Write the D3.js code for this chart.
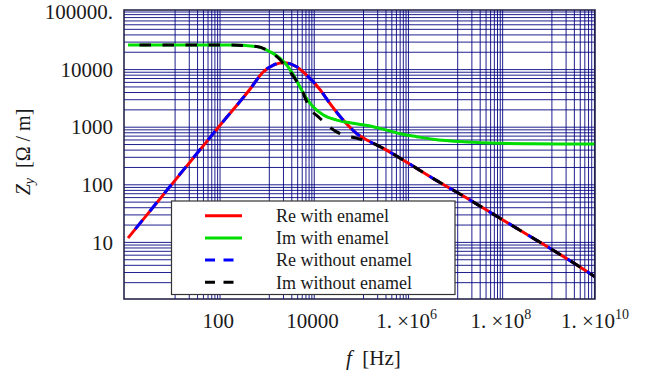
<!DOCTYPE html>
<html lang="en">
<head>
    <meta charset="UTF-8">
    <title>Z_y vs frequency</title>
    <script src="https://cdnjs.cloudflare.com/ajax/libs/d3/7.8.5/d3.min.js"></script>
    <style>
        body { margin: 0; background: #fff; }
        text { font-family: "Liberation Serif", "Times New Roman", serif; fill: #1a1a1a; }
    </style>
</head>
<body>
<svg id="chart" width="659" height="370"></svg>

<script>
    // values (frequency in Hz, impedance in ohm / m)
    const reFreq = [1, 100, 400, 740, 1220, 2000, 3800, 7200, 12000, 19500, 37000, 71000,
        138000, 263000, 600000, 3e6, 1.55e7, 7.9e7, 4.1e8, 2.05e9, 8.2e9];
    const reWith = [11.9, 1200, 4700, 9100, 12000, 13200, 11200, 7100, 4470, 2570, 1330, 780,
        560, 430, 290, 129, 59, 26.3, 11.7, 5.25, 2.54];
    const reWithout = [11.9, 1200, 4700, 9100, 12000, 13200, 11200, 7100, 4470, 2570, 1330, 780,
        560, 430, 290, 129, 59, 26.3, 11.7, 5.25, 2.54];

    const imWithFreq = [1, 146, 537, 1035, 1700, 2340, 3240, 4470, 6170, 8500, 14100, 26900,
        60000, 138000, 309000, 645000, 1.35e6, 3e6, 1.55e7, 7.9e7, 4.1e8, 8.2e9];
    const imWith = [26700, 26700, 25100, 20400, 15700, 12000, 8100, 5000, 3160, 2270, 1630, 1330,
        1170, 1050, 890, 760, 684, 617, 553, 525, 516, 510];

    const imWithoutFreq = [1, 146, 537, 1035, 1700, 2340, 2950, 3800, 4900, 6170, 8130, 11000,
        15800, 26900, 43600, 71000, 162000, 263000, 600000, 3e6, 1.55e7, 7.9e7, 4.1e8, 2.05e9, 8.2e9];
    const imWithout = [26700, 26700, 25100, 20400, 14800, 10700, 8500, 6300, 4470, 2820, 1900, 1510,
        1150, 830, 710, 645, 525, 430, 290, 129, 59, 26.3, 11.7, 5.25, 2.54];

    const xTickValues = [1e2, 1e4, 1e6, 1e8, 1e10];
    const xTickText = ["100", "10000", "1. \u00d710", "1. \u00d710", "1. \u00d710"];
    const xTickSup = ["", "", "6", "8", "10"];
    const yTickValues = [10, 100, 1000, 10000, 100000];
    const yTickText = ["10", "100", "1000", "10000", "100000."];

    const xGridDecades = [10, 1e3, 1e5, 1e7, 1e9];
    const yGridDecades = [1, 10, 100, 1000, 10000];

    const seriesNames = ["Re with enamel", "Im with enamel", "Re without enamel", "Im without enamel"];
    const seriesColors = ["#ff0000", "#00dd00", "#0000ff", "#000000"];

    const frame = {left: 124, right: 595, top: 10, bottom: 299};
    const svg = d3.select("#chart");

    const x = d3.scaleLog().domain([1, 1e10]).range([128, 599]);
    const y = d3.scaleLog().domain([1, 1e5]).range([300, 12]);

    // grid
    const xGrid = xGridDecades.flatMap(d => d3.range(1, 10).map(m => d * m))
        .filter(v => x(v) >= frame.left && x(v) <= frame.right);
    const yGrid = yGridDecades.flatMap(d => d3.range(1, 10).map(m => d * m)).concat([1e5])
        .filter(v => y(v) >= frame.top && y(v) <= frame.bottom);

    const grid = svg.append("g").attr("stroke", "#000080").attr("stroke-opacity", 0.88).attr("stroke-width", 1);
    grid.selectAll(".vg").data(xGrid).enter().append("line")
        .attr("x1", d => x(d)).attr("x2", d => x(d))
        .attr("y1", frame.top).attr("y2", frame.bottom);
    grid.selectAll(".hg").data(yGrid).enter().append("line")
        .attr("x1", frame.left).attr("x2", frame.right)
        .attr("y1", d => y(d)).attr("y2", d => y(d));

    svg.append("clipPath").attr("id", "plotClip")
        .append("rect")
        .attr("x", frame.left).attr("y", frame.top)
        .attr("width", frame.right - frame.left).attr("height", frame.bottom - frame.top);

    const lineGen = d3.line()
        .x(d => x(d[0]))
        .y(d => y(d[1]))
        .curve(d3.curveMonotoneX);

    const seriesData = [
        d3.zip(reFreq, reWith),
        d3.zip(imWithFreq, imWith),
        d3.zip(reFreq, reWithout),
        d3.zip(imWithoutFreq, imWithout)
    ];

    const curves = svg.append("g").attr("clip-path", "url(#plotClip)");
    seriesData.forEach((pts, i) => {
        const path = curves.append("path")
            .attr("d", lineGen(pts))
            .attr("fill", "none")
            .attr("stroke", seriesColors[i])
            .attr("stroke-width", 3);
        if (i >= 2) {
            path.attr("stroke-dasharray", "11.5,11.5").attr("stroke-dashoffset", 11.5);
        }
    });

    // frame
    svg.append("rect")
        .attr("x", frame.left).attr("y", frame.top)
        .attr("width", frame.right - frame.left).attr("height", frame.bottom - frame.top)
        .attr("fill", "none")
        .attr("stroke", "#1a1a40")
        .attr("stroke-width", 1.5);

    // tick labels
    const xLabels = svg.append("g").selectAll("text").data(xTickValues).enter().append("text")
        .attr("x", d => x(d) - 4)
        .attr("y", 328)
        .attr("text-anchor", "middle")
        .attr("font-size", 21);
    xLabels.append("tspan").text((d, i) => xTickText[i]);
    xLabels.append("tspan")
        .attr("font-size", 14)
        .attr("dy", -9)
        .text((d, i) => xTickSup[i]);

    svg.append("g").selectAll("text").data(yTickValues).enter().append("text")
        .attr("x", 113)
        .attr("y", d => y(d))
        .attr("dy", "0.34em")
        .attr("text-anchor", "end")
        .attr("font-size", 21)
        .text((d, i) => yTickText[i]);

    // axis titles
    const xTitle = svg.append("text")
        .attr("x", 346).attr("y", 365)
        .attr("font-size", 21);
    xTitle.append("tspan").attr("font-style", "italic").text("f");
    xTitle.append("tspan").text("\u00a0\u00a0[Hz]");

    const yTitle = svg.append("text")
        .attr("transform", "translate(30,152) rotate(-90)")
        .attr("text-anchor", "middle")
        .attr("font-size", 20);
    yTitle.append("tspan").attr("font-style", "italic").text("Z");
    yTitle.append("tspan").attr("font-style", "italic").attr("font-size", 14).attr("dy", 4).text("y");
    yTitle.append("tspan").attr("dy", -4).text("\u00a0\u00a0[\u03a9 / m]");

    // legend
    const legend = svg.append("g");
    legend.append("rect")
        .attr("x", 171.5).attr("y", 201)
        .attr("width", 283.5).attr("height", 93.5)
        .attr("fill", "#fff")
        .attr("stroke", "#333")
        .attr("stroke-width", 1.2);
    const rowY = i => 215.7 + i * 22.2;
    seriesNames.forEach((name, i) => {
        legend.append("line")
            .attr("x1", 205).attr("x2", i >= 2 ? 234 : 242)
            .attr("y1", rowY(i)).attr("y2", rowY(i))
            .attr("stroke", seriesColors[i])
            .attr("stroke-width", 3)
            .attr("stroke-dasharray", i >= 2 ? "10,8.5" : null);
        legend.append("text")
            .attr("x", 276).attr("y", rowY(i) + 6.3)
            .attr("font-size", 18)
            .text(name);
    });
</script>
</body>
</html>
